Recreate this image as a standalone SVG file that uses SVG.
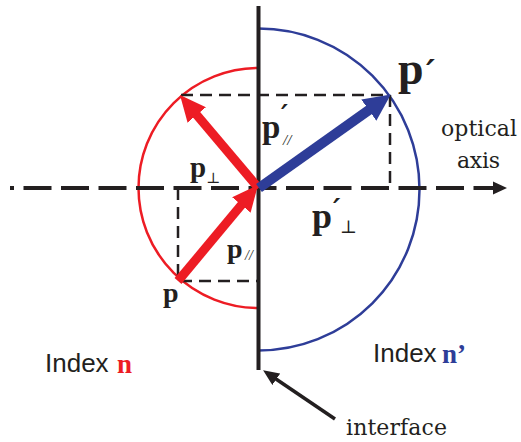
<svg xmlns="http://www.w3.org/2000/svg" width="521" height="442" viewBox="0 0 521 442">
<style>
.pb{font-family:"Liberation Serif","Times New Roman",serif;font-weight:bold;fill:#231f20}
.pr{font-family:"DejaVu Serif",serif;font-weight:bold;font-style:italic}
.sub{font-family:"Liberation Serif","DejaVu Serif",serif;font-weight:normal}
.ser{font-family:"DejaVu Serif",serif;fill:#231f20}
.sans{font-family:"Liberation Sans",Arial,sans-serif;fill:#231f20}
.dash{fill:none;stroke:#231f20;stroke-width:2.5;stroke-dasharray:12 7}
</style>
<defs>
<marker id="ahR" markerUnits="userSpaceOnUse" markerWidth="26" markerHeight="24" viewBox="0 0 26 24" refX="6" refY="12" orient="auto"><path d="M0,0 L26,12 L0,24 z" fill="#ed1c24"/></marker>
<marker id="ahB" markerUnits="userSpaceOnUse" markerWidth="27" markerHeight="26" viewBox="0 0 27 26" refX="6" refY="13" orient="auto"><path d="M0,0 L27,13 L0,26 z" fill="#2e3d98"/></marker>
<marker id="ahK" markerUnits="userSpaceOnUse" markerWidth="16" markerHeight="14" viewBox="0 0 16 14" refX="4" refY="7" orient="auto"><path d="M0,0 L16,7 L0,14 z" fill="#231f20"/></marker>
</defs>
<g id="circle-n">
<path d="M258.5,68 A120,120 0 0 0 258.5,308" fill="none" stroke="#ed1c24" stroke-width="2.5"/>
</g>
<g id="circle-n-prime">
<path d="M258.5,28.5 A161,161 0 0 1 258.5,350.5" fill="none" stroke="#2e3d98" stroke-width="2.5"/>
</g>
<g id="projections">
<path class="dash" d="M181,95 H390 V188"/>
<path class="dash" d="M178,188 V281 H258"/>
</g>
<g id="optical-axis">
<line x1="10" y1="188" x2="495" y2="188" stroke="#231f20" stroke-width="4" stroke-dasharray="28 9.5" stroke-dashoffset="24"/>
<path d="M493,181.5 L507,188 L493,194.5 z" fill="#231f20"/>
</g>
<g id="interface">
<line x1="258.5" y1="6" x2="258.5" y2="370" stroke="#231f20" stroke-width="4"/>
</g>
<g id="connectors">
<line x1="258.5" y1="188" x2="192.9" y2="110.3" stroke="#ed1c24" stroke-width="9" marker-end="url(#ahR)"/>
<line x1="178" y1="281" x2="245.2" y2="200.4" stroke="#ed1c24" stroke-width="9" marker-end="url(#ahR)"/>
<line x1="259" y1="188" x2="373.7" y2="106.6" stroke="#2e3d98" stroke-width="10" marker-end="url(#ahB)"/>
<line x1="335" y1="419" x2="273" y2="377" stroke="#231f20" stroke-width="3.5" marker-end="url(#ahK)"/>
</g>
<g id="labels">
<text class="pb" x="398" y="84" font-size="46">p<tspan class="pr" x="426" y="84" font-size="34">′</tspan></text>
<text class="pb" x="262" y="138" font-size="33">p<tspan class="pr" x="281" y="123" font-size="26">′</tspan><tspan class="sub" x="283" y="145" font-size="15" font-style="italic">//</tspan></text>
<text class="pb" x="190" y="177" font-size="29">p<tspan class="sub" x="206" y="183" font-size="15">⊥</tspan></text>
<text class="pb" x="312" y="228" font-size="36">p<tspan class="pr" x="333" y="219" font-size="28">′</tspan><tspan class="sub" x="340" y="233" font-size="18">⊥</tspan></text>
<text class="pb" x="227" y="258" font-size="28">p<tspan class="sub" x="245" y="260" font-size="14" font-style="italic">//</tspan></text>
<text class="pb" x="163" y="302" font-size="28">p</text>
<text class="ser" x="441" y="136" font-size="22" textLength="76">optical</text>
<text class="ser" x="457" y="168" font-size="22" textLength="43">axis</text>
<text class="sans" x="45" y="372" font-size="26">Index</text>
<text class="pb" x="117" y="373" font-size="27" style="fill:#ed1c24">n</text>
<text class="sans" x="373" y="362" font-size="26">Index</text>
<text class="pb" x="442" y="363" font-size="27" style="fill:#2e3d98">n’</text>
<text class="ser" x="346" y="435" font-size="22" textLength="101">interface</text>
</g>
</svg>
